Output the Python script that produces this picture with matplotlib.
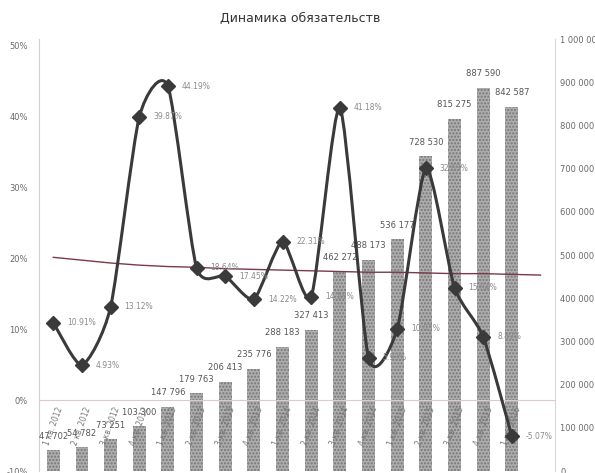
import numpy as np
from matplotlib import pyplot as plt
from matplotlib.path import Path
from matplotlib.patches import PathPatch
from matplotlib.ticker import FuncFormatter

# quarters (category axis)
quarters = ['1 кв. 2012', '2 кв. 2012', '3 кв. 2012', '4 кв. 2012',
            '1 кв. 2013', '2 кв. 2013', '3 кв. 2013', '4 кв. 2013',
            '1 кв. 2014', '2 кв. 2014', '3 кв. 2014', '4 кв. 2014',
            '1 кв. 2015', '2 кв. 2015', '3 кв. 2015', '4 кв. 2015',
            '1 кв. 2016']
# liabilities, right axis
liabilities = [47702, 54782, 73251, 103300, 147796, 179763, 206413, 235776,
               288183, 327413, 462272, 488173, 536177, 728530, 815275,
               887590, 842587]
# growth, %, left axis
growth = [10.91, 4.93, 13.12, 39.87, 44.19, 18.64, 17.45, 14.22, 22.31,
          14.58, 41.18, 5.93, 10.03, 32.63, 15.84, 8.89, -5.07]
# trend line (extends one period forward)
trend = [20.1, 19.7, 19.3, 19.0, 18.8, 18.7, 18.5, 18.4, 18.3, 18.2,
         18.1, 18.0, 18.0, 17.9, 17.8, 17.8, 17.7, 17.6]

left_ticks = [-10, 0, 10, 20, 30, 40, 50]
right_ticks = list(range(0, 1000001, 100000))


def smooth_path(xs, ys, k=9.0):
    # smoothed line like excel: catmull-rom style cubic bezier segments
    pts = np.column_stack([xs, ys]).astype(float)
    n = len(pts)
    verts = [pts[0]]
    codes = [Path.MOVETO]
    for i in range(n - 1):
        p0 = pts[i - 1] if i > 0 else pts[i]
        p1, p2 = pts[i], pts[i + 1]
        p3 = pts[i + 2] if i + 2 < n else pts[i + 1]
        verts += [p1 + (p2 - p0) / k, p2 - (p3 - p1) / k, p2]
        codes += [Path.CURVE4] * 3
    return Path(verts, codes)


plt.rcParams['font.family'] = ['DejaVu Sans']
fig = plt.figure(figsize=(5.95, 4.73), dpi=100)
fig.text(0.505, 0.962, 'Динамика обязательств', ha='center', va='center',
         fontsize=9, color='#333333')

ax = fig.add_axes([0.0655, 0.0042, 0.867, 0.9133])
x = np.arange(len(quarters))

# bars on the right axis
ax.bar(x, liabilities, width=0.45, color='#adadad', edgecolor='#767676',
       linewidth=0, hatch='.....', zorder=2)
for xi, v in zip(x, liabilities):
    ax.annotate(f'{v:,}'.replace(',', ' '), (xi, v), xytext=(0, 7),
                textcoords='offset points', ha='center', va='bottom',
                fontsize=6, color='#555555')
ax.set_ylim(0, 1000000)
ax.set_yticks(right_ticks)
ax.yaxis.set_major_formatter(FuncFormatter(lambda v, p: f'{int(v):,}'.replace(',', ' ')))
ax.tick_params(axis='x', bottom=False, labelbottom=False)
ax.set_xlim(-0.5, len(trend) - 0.5)
for s in ['top', 'bottom']:
    ax.spines[s].set_visible(False)
ax.spines['left'].set_color('#d0d0d0')
ax.spines['right'].set_color('#d8d8d8')

# growth line on the left axis
ax2 = ax.twinx()
ax.yaxis.tick_right()
ax.tick_params(axis='y', length=0, labelsize=6, labelcolor='#6a6a6a', pad=4)
ax2.xaxis.set_visible(True)
ax2.yaxis.tick_left()
ax2.set_ylim(-10, 50.85)
ax2.set_yticks(left_ticks)
ax2.yaxis.set_major_formatter(FuncFormatter(lambda v, p: f'{v:.0f}%'))
ax2.tick_params(axis='y', length=0, labelsize=6, labelcolor='#6a6a6a', pad=8)
for s in ['top', 'left', 'right']:
    ax2.spines[s].set_visible(False)
ax2.spines['bottom'].set_position(('data', 0))
ax2.spines['bottom'].set_color('#e2c6cb')
ax2.set_xticks(x)
ax2.set_xticklabels(quarters, rotation=70, ha='center', va='top',
                    fontsize=5.5, color='#777777')
ax2.tick_params(axis='x', length=0, pad=4)

ax2.plot(np.arange(len(trend)), trend, color='#7b3a48', lw=1, zorder=3)
ax2.add_patch(PathPatch(smooth_path(x, growth), facecolor='none',
                        edgecolor='#3a3a3a', lw=2.2, zorder=4))
ax2.plot(x, growth, 'D', color='#3a3a3a', markersize=7, zorder=5)
for xi, v in zip(x, growth):
    ax2.annotate(f'{v:.2f}%', (xi, v), xytext=(10, 0),
                 textcoords='offset points', ha='left', va='center',
                 fontsize=5.5, color='#8a8a8a', zorder=6)

fig.savefig('out.png', dpi=100)
